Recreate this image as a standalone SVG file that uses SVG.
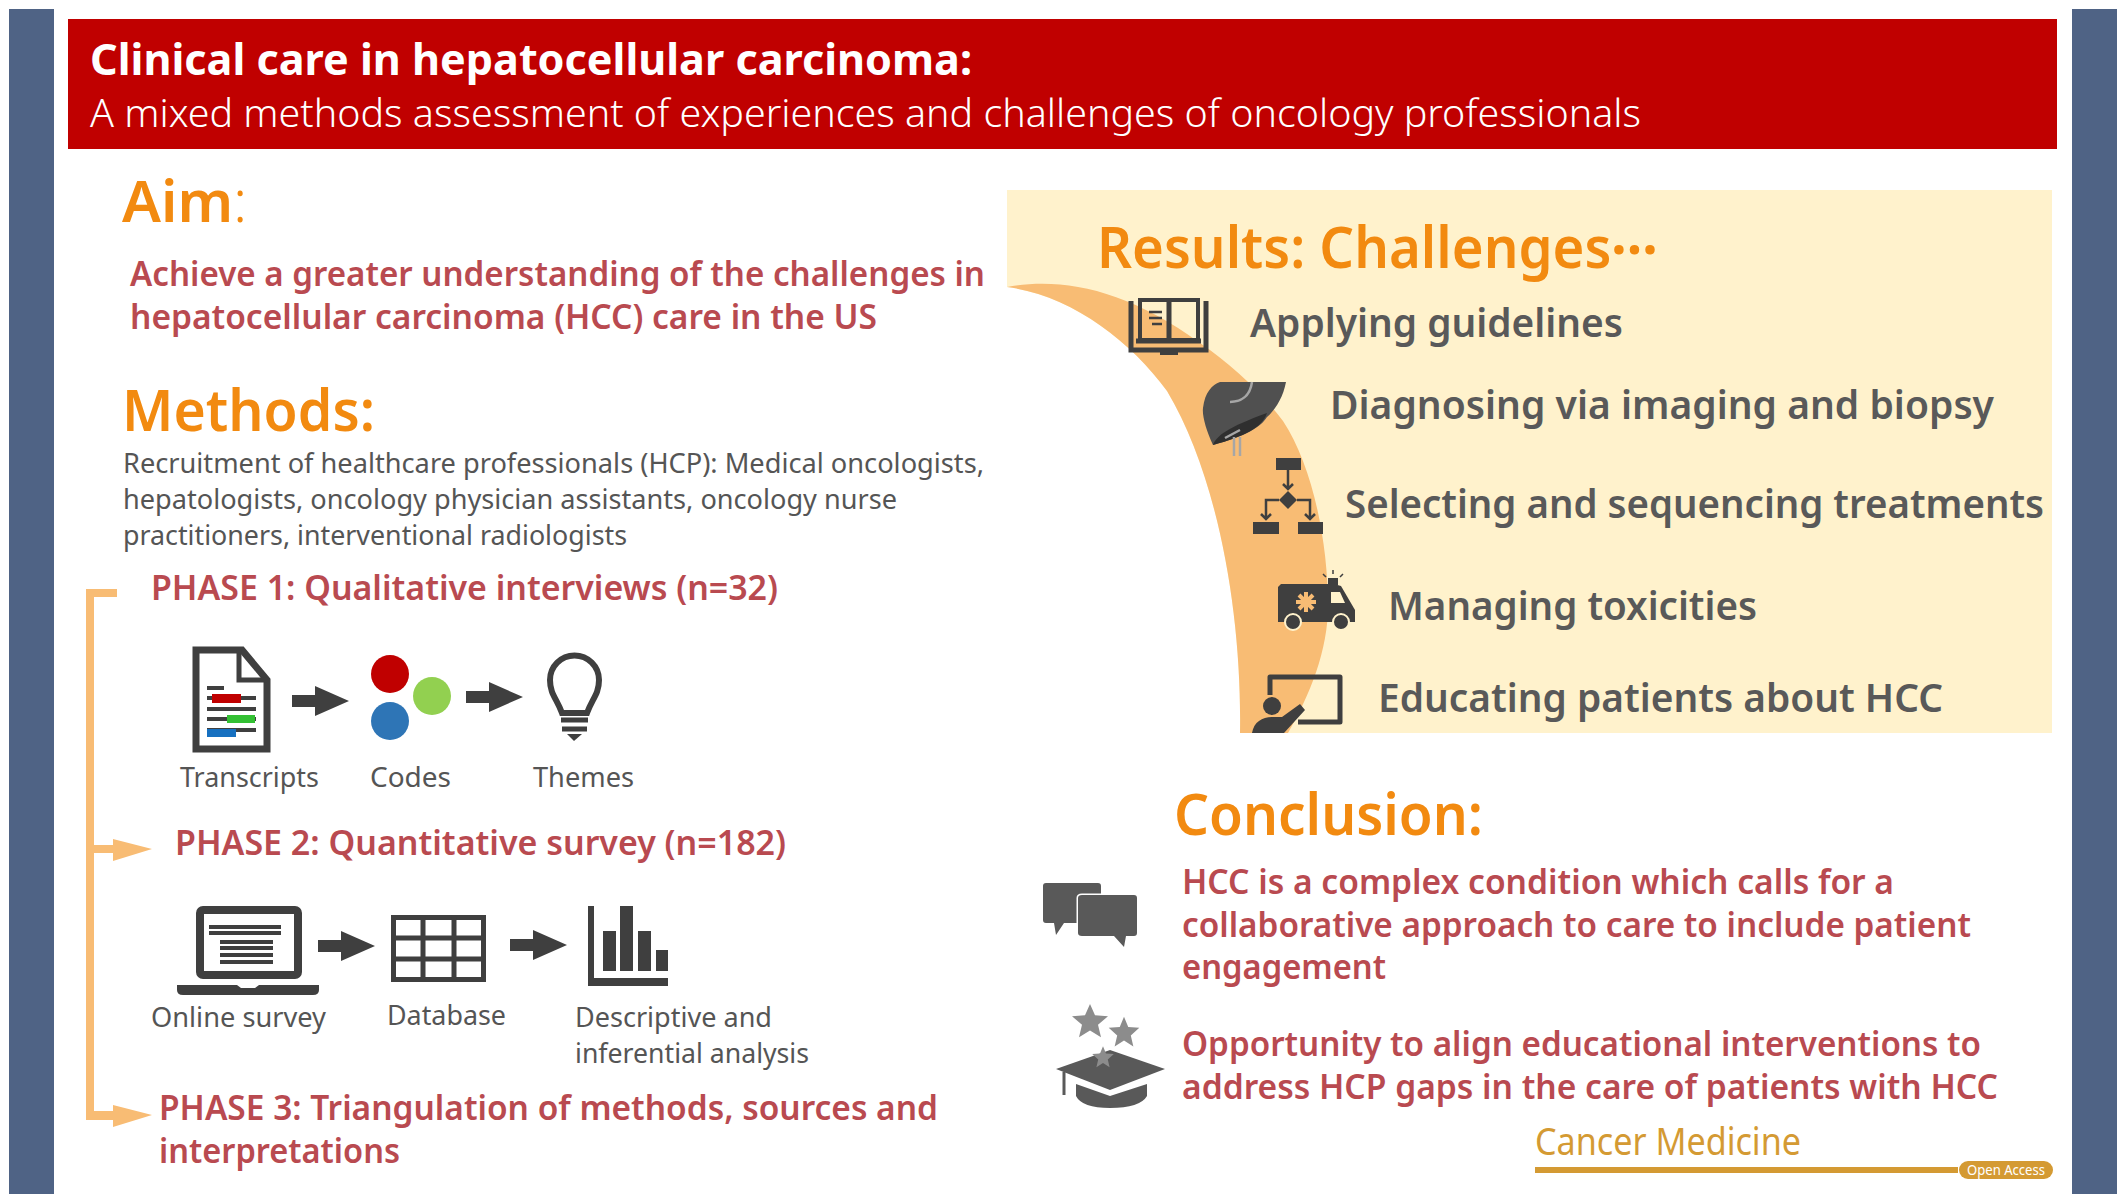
<svg xmlns="http://www.w3.org/2000/svg" width="2128" height="1204" viewBox="0 0 2128 1204">
<style>
text{font-family:"Noto Sans","Open Sans","Liberation Sans",sans-serif}
.h{font-size:58px;font-weight:600;fill:#f28a10}
.r{font-size:35px;font-weight:600;fill:#b94a50}
.g{font-size:28px;fill:#555}
.c{font-size:39px;font-weight:600;fill:#595959}
.k{fill:#3f3f3f}
.ln{stroke:#3f3f3f;fill:none}
</style>
<defs>
<path id="ar" d="M0 -6H23V-15L57 0L23 15V6H0Z" fill="#3f3f3f"/>
<path id="oar" d="M0 -10L39 0L0 12V4H-20V-4H0Z" fill="#f8bc74"/>
<polygon id="star" points="0,-18 5,-6 18,-5 8,4 11,17 0,10 -11,17 -8,4 -18,-5 -5,-6" fill="#8c8c8c"/>
</defs>
<rect width="2128" height="1204" fill="#fff"/>
<g id="frame">
<rect x="9" y="9" width="45" height="1185" fill="#4f6385"/>
<rect x="2072" y="9" width="45" height="1185" fill="#4f6385"/>
</g>
<g id="title">
<rect x="68" y="19" width="1989" height="130" fill="#c00000"/>
<text x="90" y="75" font-size="43" font-weight="700" fill="#fff" textLength="882" lengthAdjust="spacingAndGlyphs">Clinical care in hepatocellular carcinoma:</text>
<text x="90" y="127" font-size="38" font-weight="300" fill="#fff" textLength="1551" lengthAdjust="spacingAndGlyphs">A mixed methods assessment of experiences and challenges of oncology professionals</text>
</g>
<g id="aim">
<text class="h" x="122" y="222">Aim<tspan font-weight="300">:</tspan></text>
<text class="r" x="130" y="286" textLength="855" lengthAdjust="spacingAndGlyphs">Achieve a greater understanding of the challenges in</text>
<text class="r" x="130" y="329" textLength="747" lengthAdjust="spacingAndGlyphs">hepatocellular carcinoma (HCC) care in the US</text>
</g>
<g id="methods">
<text class="h" x="122" y="431" textLength="253" lengthAdjust="spacingAndGlyphs">Methods:</text>
<text class="g" x="123" y="473" textLength="861" lengthAdjust="spacingAndGlyphs">Recruitment of healthcare professionals (HCP): Medical oncologists,</text>
<text class="g" x="123" y="509" textLength="774" lengthAdjust="spacingAndGlyphs">hepatologists, oncology physician assistants, oncology nurse</text>
<text class="g" x="123" y="545" textLength="504" lengthAdjust="spacingAndGlyphs">practitioners, interventional radiologists</text>
</g>
<g id="phase1"><text class="r" x="151" y="600" textLength="627" lengthAdjust="spacingAndGlyphs">PHASE 1: Qualitative interviews (n=32)</text></g>
<g id="phase2"><text class="r" x="175" y="855" textLength="611" lengthAdjust="spacingAndGlyphs">PHASE 2: Quantitative survey (n=182)</text></g>
<g id="phase3">
<text class="r" x="159" y="1120" textLength="779" lengthAdjust="spacingAndGlyphs">PHASE 3: Triangulation of methods, sources and</text>
<text class="r" x="159" y="1163" textLength="241" lengthAdjust="spacingAndGlyphs">interpretations</text>
</g>
<g id="transcripts">
<path d="M196 650H242L267 680V749H196Z" fill="#fff" stroke="#3f3f3f" stroke-width="7"/>
<path d="M239 650V680H267" fill="none" stroke="#3f3f3f" stroke-width="5"/>
<path class="ln" stroke-width="4" d="M207 688H224M207 698H256M207 709H256M207 719H256M207 730H256"/>
<rect x="212" y="694" width="29" height="9" fill="#c00000"/>
<rect x="227" y="715" width="28" height="8" fill="#33c033"/>
<rect x="207" y="729" width="29" height="8" fill="#1670c0"/>
<text class="g" x="180" y="787" textLength="139" lengthAdjust="spacingAndGlyphs">Transcripts</text>
</g>
<g id="codes">
<circle cx="390" cy="674" r="19" fill="#c00000"/>
<circle cx="432" cy="696" r="19" fill="#92d050"/>
<circle cx="390" cy="721" r="19" fill="#2e75b6"/>
<text class="g" x="370" y="787" textLength="81" lengthAdjust="spacingAndGlyphs">Codes</text>
</g>
<g id="themes">
<path stroke="#3f3f3f" stroke-width="6" fill="#fff" d="M562 713C557 699 550 694 550 680A24.500 24.500 0 0 1 599 680C599 694 592 699 587 713Z"/>
<path class="ln" stroke-width="5" d="M561 720H588M562 729H587"/>
<path class="k" d="M567 734H582L574 741Z"/>
<text class="g" x="533" y="787" textLength="101" lengthAdjust="spacingAndGlyphs">Themes</text>
</g>
<g id="online-survey">
<rect x="200" y="910" width="98" height="65" fill="#fff" stroke="#3f3f3f" stroke-width="8" rx="3"/>
<path class="ln" stroke-width="4" d="M209 927H281M209 933H281M220 942H273M220 948H273M220 955H273M220 962H273"/>
<path class="k" d="M177 985H237L241 988H255L259 985H319V990Q319 995 313 995H183Q177 995 177 990Z"/>
<text class="g" x="151" y="1027" textLength="175" lengthAdjust="spacingAndGlyphs">Online survey</text>
</g>
<g id="database">
<rect x="393.500" y="917.500" width="90" height="62" fill="#fff" stroke="#3f3f3f" stroke-width="5"/>
<path class="ln" stroke-width="5" d="M423 917V980M454 917V980M393 938H484M393 959H484"/>
<text class="g" x="387" y="1025" textLength="119" lengthAdjust="spacingAndGlyphs">Database</text>
</g>
<g id="analysis">
<path class="k" d="M588 906H594V978H668V986H588Z"/>
<rect class="k" x="603" y="931" width="13" height="40"/>
<rect class="k" x="620" y="906" width="13" height="65"/>
<rect class="k" x="638" y="931" width="13" height="40"/>
<rect class="k" x="656" y="950" width="12" height="21"/>
<text class="g" x="575" y="1027" textLength="197" lengthAdjust="spacingAndGlyphs">Descriptive and</text>
<text class="g" x="575" y="1063" textLength="234" lengthAdjust="spacingAndGlyphs">inferential analysis</text>
</g>
<g id="connectors">
<path d="M117 593H90V1116H125M90 849H125" fill="none" stroke="#f8bc74" stroke-width="8"/>
<use href="#oar" x="113" y="849"/>
<use href="#oar" x="113" y="1115"/>
<use href="#ar" x="292" y="701"/>
<use href="#ar" x="466" y="697"/>
<use href="#ar" x="318" y="946"/>
<use href="#ar" x="510" y="945"/>
</g>
<g id="results">
<rect x="1007" y="190" width="1045" height="543" fill="#fff2cc"/>
<path d="M1007 287C1070 295 1130 340 1167 391C1220 480 1242 620 1240 733.500H1007Z" fill="#fff"/>
<path d="M1007 287C1060 277 1125 288 1200 343C1232 365 1262 393 1283 421C1312 465 1328 540 1328 606C1328 650 1310 695 1288 733H1240C1242 620 1220 480 1167 391C1130 340 1070 295 1007 287Z" fill="#f8bc74"/>
<text class="h" x="1097" y="268" textLength="561" lengthAdjust="spacingAndGlyphs">Results: Challenges<tspan dy="-14" font-weight="700">…</tspan></text>
</g>
<g id="guidelines">
<rect x="1140" y="300" width="58" height="40" fill="none" stroke="#3f3f3f" stroke-width="4"/>
<path class="ln" stroke-width="5" d="M1169 300V340M1131 301V350H1206V301M1136 341H1201"/>
<path class="ln" stroke-width="2.500" d="M1149 312H1162M1149 318H1162M1152 324H1162"/>
<rect class="k" x="1160" y="350" width="18" height="5"/>
<text class="c" x="1250" y="337" textLength="373" lengthAdjust="spacingAndGlyphs">Applying guidelines</text>
</g>
<g id="imaging">
<path d="M1220 382H1286C1283 398 1275 410 1267 417C1260 428 1245 436 1213 445C1206 430 1202 415 1203 408C1205 392 1212 385 1220 382Z" fill="#505050"/>
<path d="M1213 445C1216 436 1228 427 1267 413C1262 428 1245 436 1213 445Z" fill="#2f2f2f"/>
<path d="M1230 402C1240 402 1250 397 1252 382" fill="none" stroke="#a6a6a6" stroke-width="2.500"/>
<path d="M1234 437V456M1240 437V456M1225 438L1240 430" fill="none" stroke="#a6a6a6" stroke-width="2.500"/>
<text class="c" x="1330" y="419" textLength="664" lengthAdjust="spacingAndGlyphs">Diagnosing via imaging and biopsy</text>
</g>
<g id="treatments">
<rect class="k" x="1276" y="458" width="25" height="12"/>
<rect class="k" x="1253" y="522" width="26" height="12"/>
<rect class="k" x="1298" y="522" width="25" height="12"/>
<path class="k" d="M1288 491L1297 500L1288 509L1279 500Z"/>
<path class="ln" stroke-width="2.500" d="M1288 470V488M1283 484L1288 489L1293 484M1279 500H1266V518M1261 514L1266 519L1271 514M1297 500H1310V518M1305 514L1310 519L1315 514"/>
<text class="c" x="1345" y="518" textLength="699" lengthAdjust="spacingAndGlyphs">Selecting and sequencing treatments</text>
</g>
<g id="toxicities">
<path class="k" d="M1281 584H1334L1341 586L1355 610V622H1278V587Z"/>
<path d="M1331 592H1340L1345 603H1331Z" fill="#fff2cc"/>
<path d="M1296 602H1316M1306 592V612M1299 595L1313 609M1313 595L1299 609" stroke="#f8bc74" stroke-width="4"/>
<rect class="k" x="1328" y="578" width="10" height="7"/>
<path class="ln" stroke-width="1.500" d="M1333 574V570M1326 577L1323 574M1340 577L1343 574"/>
<circle cx="1293" cy="622" r="8" fill="#3f3f3f" stroke="#fff2cc" stroke-width="2"/>
<circle cx="1341" cy="622" r="8" fill="#3f3f3f" stroke="#fff2cc" stroke-width="2"/>
<text class="c" x="1388" y="620" textLength="369" lengthAdjust="spacingAndGlyphs">Managing toxicities</text>
</g>
<g id="educating">
<path d="M1270 695V677H1340V722H1298" fill="none" stroke="#3f3f3f" stroke-width="5" stroke-linejoin="round"/>
<circle class="k" cx="1272" cy="706" r="9"/>
<path class="k" d="M1252 733C1254 722 1262 717 1272 717H1282L1300 704L1305 710L1284 733Z"/>
<text class="c" x="1378" y="712" textLength="565" lengthAdjust="spacingAndGlyphs">Educating patients about HCC</text>
</g>
<g id="conclusion">
<text class="h" x="1174" y="835" textLength="309" lengthAdjust="spacingAndGlyphs">Conclusion:</text>
<text class="r" x="1182" y="894" textLength="712" lengthAdjust="spacingAndGlyphs">HCC is a complex condition which calls for a</text>
<text class="r" x="1182" y="937" textLength="789" lengthAdjust="spacingAndGlyphs">collaborative approach to care to include patient</text>
<text class="r" x="1182" y="979" textLength="204" lengthAdjust="spacingAndGlyphs">engagement</text>
<text class="r" x="1182" y="1056" textLength="799" lengthAdjust="spacingAndGlyphs">Opportunity to align educational interventions to</text>
<text class="r" x="1182" y="1099" textLength="816" lengthAdjust="spacingAndGlyphs">address HCP gaps in the care of patients with HCC</text>
</g>
<g id="speech">
<path d="M1046 883H1098Q1101 883 1101 886V923H1064L1056 935L1054 923H1046Q1043 923 1043 920V886Q1043 883 1046 883Z" fill="#595959"/>
<path d="M1082 895H1134Q1137 895 1137 898V933Q1137 936 1134 936H1126L1124 947L1114 936H1082Q1078 936 1078 933V898Q1078 895 1082 895Z" fill="#595959" stroke="#fff" stroke-width="3" paint-order="stroke"/>
</g>
<g id="cap">
<use href="#star" transform="translate(1090 1021) scale(1 .95)"/>
<use href="#star" transform="translate(1124 1032) scale(.85 .85)"/>
<path d="M1110 1050L1165 1069L1110 1090L1056 1069Z" fill="#595959"/>
<path d="M1076 1084L1110 1096L1147 1084V1096Q1140 1108 1110 1108Q1082 1108 1076 1096Z" fill="#595959"/>
<path d="M1064 1072V1095" stroke="#595959" stroke-width="3"/>
<use href="#star" transform="translate(1103 1057) scale(.6 .6)"/>
</g>
<g id="journal">
<text x="1535" y="1155" font-size="38" fill="#d49a33" textLength="266" lengthAdjust="spacingAndGlyphs">Cancer Medicine</text>
<rect x="1535" y="1167" width="423" height="6" fill="#d49a33"/>
<rect x="1959" y="1161" width="94" height="18" rx="9" fill="#d49a33"/>
<text x="1967" y="1175" font-size="14" fill="#fff" textLength="78" lengthAdjust="spacingAndGlyphs">Open Access</text>
</g>
</svg>
